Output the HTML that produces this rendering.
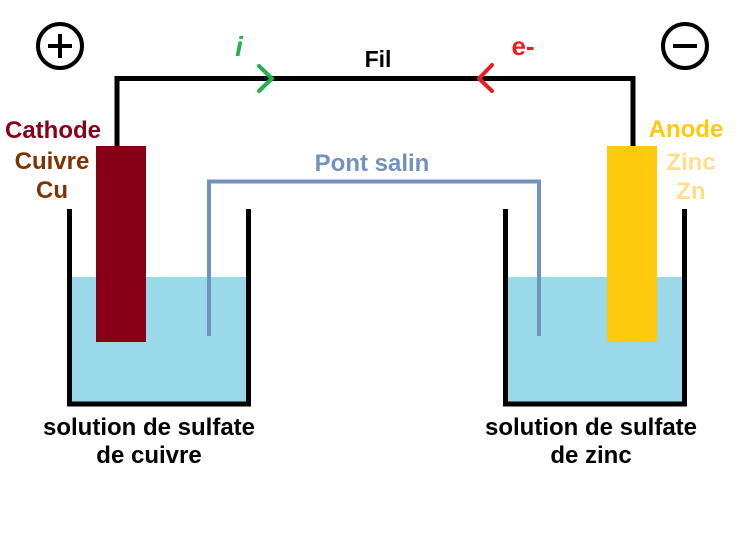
<!DOCTYPE html>
<html><head><style>
html,body{margin:0;padding:0;background:#fff;}
svg text{font-family:"Liberation Sans",Arial,sans-serif;font-weight:bold;}
</style></head><body>
<svg width="750" height="552" viewBox="0 0 750 552" xmlns="http://www.w3.org/2000/svg">
<rect x="72" y="277" width="174" height="125" fill="#99d9ea"/>
<rect x="508" y="277" width="174" height="125" fill="#99d9ea"/>
<path d="M69.5 209 V404 H248.5 V209" fill="none" stroke="#000" stroke-width="5"/>
<path d="M505.5 209 V404 H684.5 V209" fill="none" stroke="#000" stroke-width="5"/>
<path d="M117 146 V78.5 H633 V146" fill="none" stroke="#000" stroke-width="5"/>
<rect x="96" y="146" width="50" height="196" fill="#880015"/>
<rect x="607" y="146" width="50" height="196" fill="#ffc90e"/>
<path d="M209 336 V181.5 H539 V336" fill="none" stroke="#7092be" stroke-width="4"/>
<path d="M259 66 L272 78.5 L259 91" fill="none" stroke="#22b14c" stroke-width="4" stroke-linecap="round" stroke-linejoin="round"/>
<path d="M492 65 L479 78.5 L492 91" fill="none" stroke="#ed1c24" stroke-width="4" stroke-linecap="round" stroke-linejoin="round"/>
<circle cx="60" cy="46" r="22" fill="none" stroke="#000" stroke-width="4"/>
<path d="M48 46 H72 M60 34 V58" stroke="#000" stroke-width="4"/>
<circle cx="685" cy="46" r="22" fill="none" stroke="#000" stroke-width="4"/>
<path d="M673 46 H697" stroke="#000" stroke-width="4"/>
<text x="239" y="56" font-size="28" fill="#22b14c" font-style="italic" font-family="Liberation Serif,serif" text-anchor="middle">i</text>
<text x="523" y="55" font-size="26" fill="#ed1c24" text-anchor="middle">e-</text>
<text x="378" y="67" font-size="23" fill="#000" text-anchor="middle">Fil</text>
<text x="372" y="171" font-size="24" fill="#7092be" text-anchor="middle">Pont salin</text>
<text x="53" y="138" font-size="24" fill="#880015" text-anchor="middle">Cathode</text>
<text x="52" y="169" font-size="24" fill="#7f3300" text-anchor="middle">Cuivre</text>
<text x="52" y="198" font-size="24" fill="#7f3300" text-anchor="middle">Cu</text>
<text x="686" y="137" font-size="24" fill="#ffc90e" text-anchor="middle">Anode</text>
<text x="691" y="170" font-size="24" fill="#ffdf8a" text-anchor="middle">Zinc</text>
<text x="691" y="199" font-size="24" fill="#ffdf8a" text-anchor="middle">Zn</text>
<text x="149" y="435" font-size="24" fill="#000" text-anchor="middle">solution de sulfate</text>
<text x="149" y="463" font-size="24" fill="#000" text-anchor="middle">de cuivre</text>
<text x="591" y="435" font-size="24" fill="#000" text-anchor="middle">solution de sulfate</text>
<text x="591" y="463" font-size="24" fill="#000" text-anchor="middle">de zinc</text>
</svg>
</body></html>
